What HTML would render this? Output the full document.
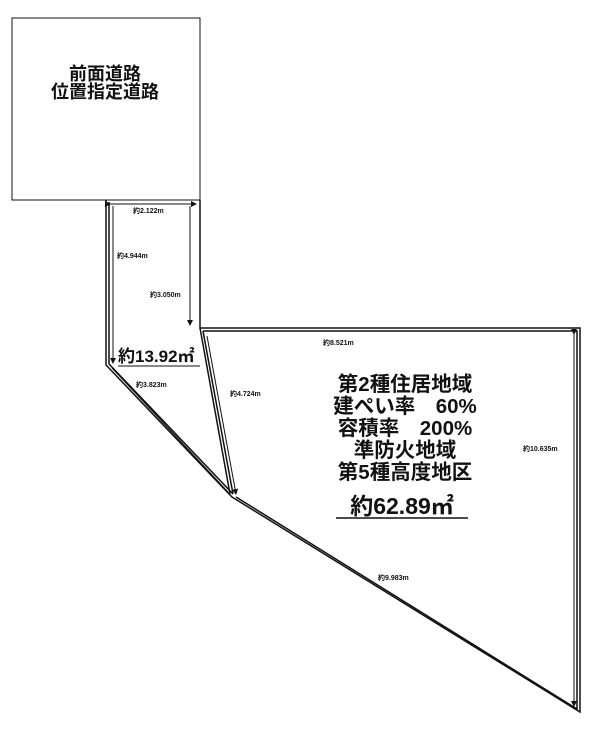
<!DOCTYPE html>
<html><head><meta charset="utf-8"><style>
body{margin:0;background:#fff}
svg{display:block}
text{font-family:"Liberation Sans","Noto Sans CJK JP",sans-serif;fill:#111}
.s{font-size:7px;font-weight:bold}
.b{font-size:20.5px;font-weight:bold}
</style></head><body>
<svg width="600" height="734" viewBox="0 0 600 734">
<defs><marker id="a" markerWidth="6" markerHeight="6" refX="5" refY="3" orient="auto"><path d="M0,0 L6,3 L0,6z" fill="#111"/></marker></defs>
<g fill="none" stroke="#111">
<rect x="12" y="18" width="188" height="182" stroke-width="1"/>
<g stroke-width="1.5">
<path d="M106 200 V365 L232 497 L580 712 V328 H200 V200"/>
<path d="M109 202 V364 L233 494"/>
<path d="M203 331 L233 494"/>
<path d="M200 328 L230 494"/>
<path d="M203 331 H577 V709 L236 497"/>
</g>
<g stroke-width="1" marker-end="url(#a)" marker-start="url(#a)">
<line x1="110" y1="204" x2="196" y2="204"/>
<line x1="574" y1="334" x2="574" y2="706"/>
</g>
<line x1="113" y1="206" x2="113" y2="363" stroke-width="1" marker-end="url(#a)"/>
<line x1="190" y1="206" x2="190" y2="325" stroke-width="1" marker-end="url(#a)"/>
<line x1="207" y1="336" x2="236" y2="494" stroke-width="1" marker-end="url(#a)"/>
<line x1="112" y1="368" x2="228" y2="492" stroke-width="1"/>
</g>
<text x="105" y="80" text-anchor="middle" style="font-size:18px;font-weight:bold">前面道路</text>
<text x="105" y="98" text-anchor="middle" style="font-size:18px;font-weight:bold">位置指定道路</text>
<text class="s" x="133" y="213">約2.122m</text>
<text class="s" x="117" y="258">約4.944m</text>
<text class="s" x="150" y="297">約3.050m</text>
<text class="s" x="136" y="387">約3.823m</text>
<text class="s" x="230" y="396">約4.724m</text>
<text class="s" x="323" y="345">約8.521m</text>
<text class="s" x="523" y="451">約10.635m</text>
<text class="s" x="378" y="580">約9.983m</text>
<text x="118" y="362" style="font-size:17px;font-weight:bold">約13.92㎡</text>
<line x1="118" y1="366" x2="200" y2="366" stroke="#111"/>
<g text-anchor="middle">
<text class="b" x="405" y="391">第2種住居地域</text>
<text class="b" x="405" y="413">建ぺい率　60%</text>
<text class="b" x="405" y="435">容積率　200%</text>
<text class="b" x="405" y="457">準防火地域</text>
<text class="b" x="405" y="479">第5種高度地区</text>
<text x="402" y="514" style="font-size:23px;font-weight:bold">約62.89㎡</text>
</g>
<line x1="336" y1="518" x2="468" y2="518" stroke="#111" stroke-width="1.5"/>
</svg>
</body></html>
